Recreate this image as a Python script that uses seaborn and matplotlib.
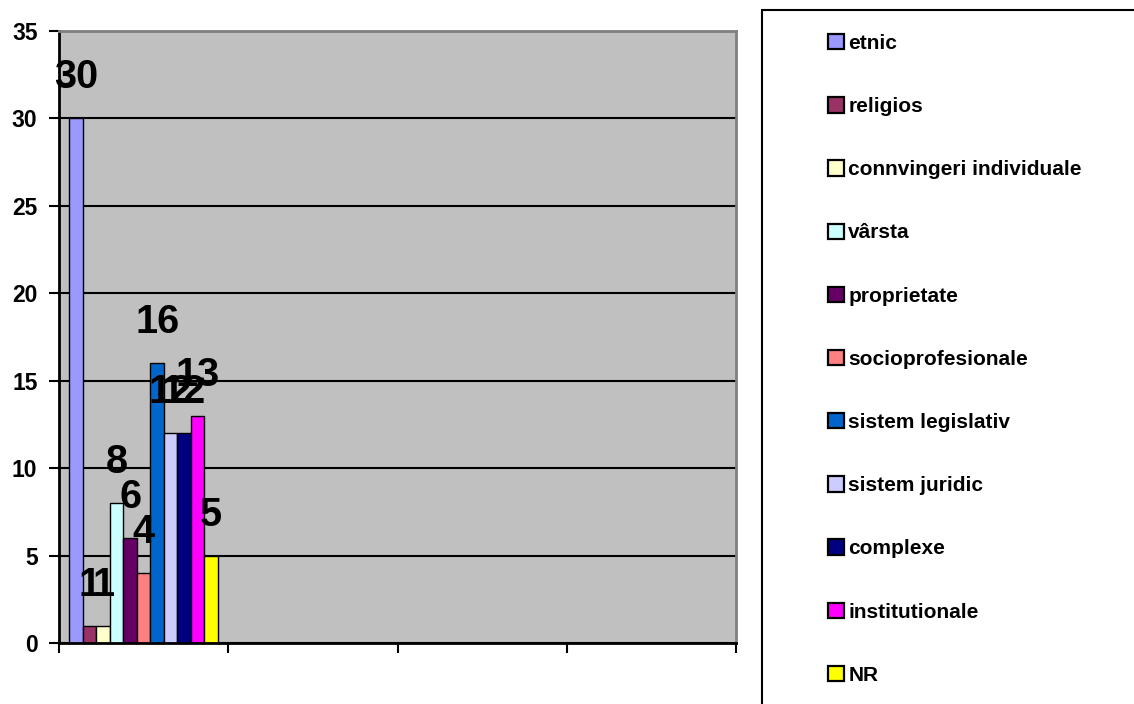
import matplotlib
matplotlib.use("Agg")
import matplotlib.pyplot as plt
import seaborn as sns
import pandas as pd
from matplotlib.patches import Rectangle

# Motive (serii) si numarul de raspunsuri
categories = ["etnic", "religios", "connvingeri individuale", "vârsta", "proprietate",
              "socioprofesionale", "sistem legislativ", "sistem juridic", "complexe",
              "institutionale", "NR"]
values = [30, 1, 1, 8, 6, 4, 16, 12, 12, 13, 5]
colors = ["#9999FF", "#993366", "#FFFFCC", "#CCFFFF", "#660066", "#FF8080",
          "#0066CC", "#CCCCFF", "#000080", "#FF00FF", "#FFFF00"]
groups = ["1", "2", "3", "4"]
y_ticks = [0, 5, 10, 15, 20, 25, 30, 35]

sns.set_theme(style="white")
plt.rcParams["font.family"] = ["Liberation Sans", "DejaVu Sans"]
plt.rcParams["font.weight"] = "bold"
plt.rcParams["text.color"] = "black"
plt.rcParams["axes.labelcolor"] = "black"
plt.rcParams["xtick.color"] = "black"
plt.rcParams["ytick.color"] = "black"

df = pd.DataFrame({"grupa": groups[0], "motiv": categories, "valoare": values})

W, H = 1134, 704
fig = plt.figure(figsize=(W / 100, H / 100), dpi=100)
ax = fig.add_axes([59 / W, 1 - 643 / H, (736 - 59) / W, (643 - 31) / H])
ax.set_facecolor("#C0C0C0")

sns.barplot(data=df, x="grupa", y="valoare", hue="motiv", order=groups,
            hue_order=categories, palette=colors, width=0.876, saturation=1,
            edgecolor="black", linewidth=1.0, ax=ax)

# value labels above each bar
for container, val in zip(ax.containers, values):
    for bar in container:
        h = bar.get_height()
        if h != h:
            continue
        ax.annotate(str(val), (bar.get_x() + bar.get_width() / 2, h),
                    xytext=(0, 21.6), textcoords="offset points",
                    ha="center", va="baseline", fontsize=28.5,
                    fontweight="bold", color="black")

ax.set_ylim(0, 35)
ax.set_yticks(y_ticks)
ax.set_xlim(-0.5, len(groups) - 0.5)
ax.set_xticks([i - 0.5 for i in range(len(groups) + 1)])
ax.set_xticklabels([])
ax.set_xlabel("")
ax.set_ylabel("")
ax.yaxis.grid(True, color="black", linewidth=1.5)
ax.set_axisbelow(True)
ax.tick_params(axis="both", direction="out", length=7.5, width=1.5,
               color="black", left=True, bottom=True, pad=8)
for lab in ax.get_yticklabels():
    lab.set_fontsize(16.5)
    lab.set_fontweight("bold")
    lab.set_color("black")

for side in ["left", "bottom"]:
    ax.spines[side].set_color("black")
    ax.spines[side].set_linewidth(2)
for side in ["top", "right"]:
    ax.spines[side].set_color("#808080")
    ax.spines[side].set_linewidth(2)

handles, labels = ax.get_legend_handles_labels()
ax.get_legend().remove()
leg = fig.legend(handles, labels, loc="upper left",
                 bbox_to_anchor=(828 / W, 1 - 34 / H),
                 frameon=False, prop={"weight": "bold", "size": 15},
                 handlelength=0.75, handleheight=0.75, handletextpad=0.22,
                 labelspacing=2.12, borderpad=0, borderaxespad=0)
for txt in leg.get_texts():
    txt.set_color("black")
for hnd in leg.legend_handles:
    hnd.set_edgecolor("black")
    hnd.set_linewidth(1.6)
fig.add_artist(Rectangle((762 / W, -0.1), 1.0, 1 - 10 / H + 0.1,
                         transform=fig.transFigure, fill=False,
                         edgecolor="black", linewidth=1.5))

fig.savefig("out.png", dpi=100)
